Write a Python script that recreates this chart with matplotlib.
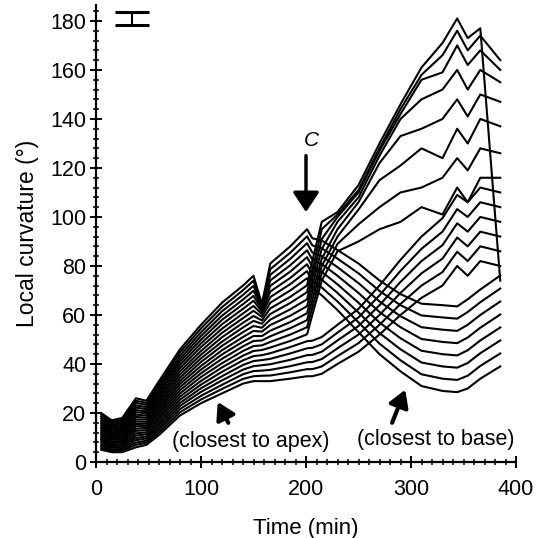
import matplotlib
matplotlib.use("Agg")
import matplotlib.pyplot as plt
from matplotlib.ticker import MultipleLocator

plt.rcParams["font.family"] = ["Liberation Sans", "DejaVu Sans"]

# sampling times (min), shared by every curve
time_min = [5, 15, 25, 38, 48, 60, 80, 100, 120, 140, 150, 158, 166, 185, 201,
            206, 215, 230, 250, 270, 290, 310, 330, 344, 354, 366, 385]

# local curvature (deg), one list per position along the organ (apex -> base)
curv_01 = [5, 4, 4, 6, 7, 11, 19, 24, 28, 32, 33, 33, 33, 34, 35,
           35, 36, 40, 45, 52, 60, 67, 72, 80, 76, 82, 80]
curv_02 = [5.7, 4.6, 4.7, 7.0, 7.9, 12.0, 20.3, 25.5, 29.8, 33.9, 35.0, 35.2, 35.3, 36.6, 37.9,
           37.9, 39, 43.2, 48.5, 56, 64.5, 72, 77.5, 85.8, 82, 88, 86]
curv_03 = [6.4, 5.2, 5.3, 7.9, 8.7, 13.1, 21.6, 27.0, 31.5, 35.8, 37.1, 37.3, 37.6, 39.1, 40.7,
           40.8, 42, 46.4, 52, 60, 69, 77, 83, 91.6, 88, 94, 92]
curv_04 = [7.1, 5.9, 6.0, 8.9, 9.6, 14.1, 22.9, 28.6, 33.3, 37.7, 39.1, 39.5, 39.9, 41.7, 43.6,
           43.7, 45, 49.6, 55.5, 64, 73.5, 82, 88.5, 97.4, 94, 100, 98]
curv_05 = [7.9, 6.5, 6.7, 9.8, 10.4, 15.2, 24.1, 30.1, 35.0, 39.6, 41.2, 41.6, 42.1, 44.3, 46.4,
           46.6, 48, 52.8, 59, 68, 78, 87, 94, 103.2, 100, 106, 104]
curv_06 = [8.6, 7.1, 7.3, 10.8, 11.3, 16.2, 25.4, 31.6, 36.8, 41.5, 43.2, 43.6, 44.4, 46.9, 49.3,
           49.5, 51, 56, 62.5, 72, 82.5, 92, 99.5, 109, 106, 112, 110]
curv_07 = [9.3, 7.7, 8.0, 11.7, 12.1, 17.3, 26.7, 33.1, 38.6, 43.4, 45.3, 45.7, 46.7, 49.4, 52.1,
           60, 74, 86, 90, 95, 98, 104, 101, 112, 106, 116, 116]
curv_08 = [10.0, 8.3, 8.7, 12.7, 13.0, 18.3, 28.0, 34.7, 40.3, 45.3, 47.3, 47.6, 49.0, 52.0, 55.0,
           63, 77, 89, 97, 104, 110, 112, 116, 124, 119, 128, 126]
curv_09 = [10.7, 9.0, 9.3, 13.6, 13.9, 19.4, 29.3, 36.2, 42.1, 47.2, 49.4, 49.6, 51.3, 54.6, 57.9,
           66, 80, 92, 103, 115, 121, 128, 124, 136, 130, 140, 137]
curv_10 = [11.4, 9.6, 10.0, 14.6, 14.7, 20.4, 30.6, 37.7, 43.9, 49.1, 51.4, 51.4, 53.6, 57.1, 60.7,
           69, 83, 95, 106, 122, 133, 136, 140, 148, 141, 150, 147]
curv_11 = [12.1, 10.2, 10.7, 15.5, 15.6, 21.5, 31.9, 39.2, 45.6, 51.0, 53.5, 53.2, 55.9, 59.7, 63.6,
           72, 87, 98, 108, 125, 140, 148, 152, 160, 152, 160, 155]
curv_12 = [12.9, 10.8, 11.3, 16.5, 16.4, 22.5, 33.1, 40.8, 47.4, 53.0, 55.5, 54.8, 58.1, 62.3, 66.4,
           75, 91, 100, 110, 127, 142, 156, 159, 170, 162, 168, 160]
curv_13 = [13.6, 11.4, 12.0, 17.4, 17.3, 23.6, 34.4, 42.3, 49.1, 54.9, 57.6, 56.4, 60.4, 64.9, 69.3,
           78, 95, 101, 111, 128, 144, 158, 166, 176, 168, 174, 164]
curv_14 = [14.3, 12.0, 12.7, 18.4, 18.1, 24.6, 35.7, 43.8, 50.9, 56.8, 59.6, 57.8, 62.7, 67.4, 72.1,
           82, 98, 102, 113, 130, 146, 161, 171, 181, 173, 177, 74]
curv_15 = [15.0, 12.7, 13.3, 19.3, 19.0, 25.7, 37.0, 45.3, 52.7, 58.7, 61.7, 59.2, 65.0, 70.0, 75.0,
           71, 68, 62, 53, 44, 37, 31, 29, 28.5, 30, 34, 39]
curv_16 = [15.7, 13.3, 14.0, 20.3, 19.9, 26.7, 38.3, 46.9, 54.4, 60.6, 63.7, 60.4, 67.3, 72.6, 77.9,
           73.9, 71.2, 65.5, 57, 48.3, 41.5, 35.8, 34, 33.5, 35.2, 39.2, 44.3]
curv_17 = [16.4, 13.9, 14.7, 21.2, 20.7, 27.8, 39.6, 48.4, 56.2, 62.5, 65.8, 61.5, 69.6, 75.1, 80.7,
           76.8, 74.4, 69, 61, 52.6, 46, 40.6, 39, 38.5, 40.4, 44.4, 49.6]
curv_18 = [17.1, 14.5, 15.3, 22.2, 21.6, 28.8, 40.9, 49.9, 58.0, 64.4, 67.8, 62.4, 71.9, 77.7, 83.6,
           79.7, 77.6, 72.5, 65, 56.9, 50.5, 45.4, 44, 43.5, 45.6, 49.6, 54.9]
curv_19 = [17.9, 15.1, 16.0, 23.1, 22.4, 29.9, 42.1, 51.4, 59.7, 66.3, 69.9, 63.2, 74.1, 80.3, 86.4,
           82.6, 80.8, 76, 69, 61.2, 55, 50.2, 49, 48.5, 50.8, 54.8, 60.2]
curv_20 = [18.6, 15.8, 16.7, 24.1, 23.3, 30.9, 43.4, 52.9, 61.5, 68.2, 71.9, 63.8, 76.4, 82.9, 89.3,
           85.5, 84, 79.5, 73, 65.5, 59.5, 55, 54, 53.5, 56, 60, 65.5]
curv_21 = [19.3, 16.4, 17.3, 25.0, 24.1, 32.0, 44.7, 54.5, 63.2, 70.1, 74.0, 64.2, 78.7, 85.4, 92.1,
           88.4, 87.2, 83, 77, 69.8, 64, 59.8, 59, 58.5, 61.2, 65.2, 70.8]
curv_22 = [20, 17, 18, 26, 25, 33, 46, 56, 65, 72, 76, 64.5, 81, 88, 95,
           91.3, 90.4, 86.5, 81, 74.1, 68.5, 64.6, 64, 63.5, 66.4, 70.4, 76.1]

curves = [curv_01, curv_02, curv_03, curv_04, curv_05, curv_06, curv_07, curv_08,
          curv_09, curv_10, curv_11, curv_12, curv_13, curv_14, curv_15, curv_16,
          curv_17, curv_18, curv_19, curv_20, curv_21, curv_22]

# error bar shown in the top-left corner
err_x = 34
err_y = 181
err_half = 2.8

fig = plt.figure(figsize=(5.41, 5.38), dpi=100)
ax = fig.add_axes([96 / 541, 76 / 538, 420 / 541, 457 / 538])

for c in curves:
    ax.plot(time_min, c, color="black", lw=1.5)

ax.errorbar([err_x], [err_y], yerr=[err_half], color="black", capsize=12.5,
            capthick=2.2, elinewidth=1.5, clip_on=False)

ax.set_xlim(0, 400)
ax.set_ylim(0, 186.5)
ax.xaxis.set_major_locator(MultipleLocator(100))
ax.xaxis.set_minor_locator(MultipleLocator(10))
ax.yaxis.set_major_locator(MultipleLocator(20))
ax.yaxis.set_minor_locator(MultipleLocator(4))
ax.tick_params(which="major", direction="inout", length=8, width=1.4, labelsize=15.5)
ax.tick_params(which="minor", direction="inout", length=4, width=1.1)
ax.tick_params(axis="x", which="major", pad=8)
ax.tick_params(axis="y", which="major", pad=3)
for s in ["top", "right"]:
    ax.spines[s].set_visible(False)
for s in ["left", "bottom"]:
    ax.spines[s].set_linewidth(1.6)

ax.set_xlabel("Time (min)", fontsize=16, labelpad=13)
ax.set_ylabel("Local curvature (°)", fontsize=16.5, labelpad=8)

# "C" marker arrow
ax.text(205, 131, "C", fontsize=15, fontstyle="italic", ha="center", va="center")
ax.annotate("", xy=(200, 102), xytext=(200, 125),
            arrowprops=dict(arrowstyle="-|>,head_length=0.6,head_width=0.4",
                            lw=2.5, color="black", mutation_scale=20,
                            shrinkA=0, shrinkB=0))

# apex / base arrows and labels
ax.annotate("", xy=(116, 24.5), xytext=(126, 16),
            arrowprops=dict(arrowstyle="-|>,head_length=0.5,head_width=0.3",
                            lw=3, color="black", mutation_scale=20,
                            shrinkA=0, shrinkB=0))
ax.annotate("", xy=(294.5, 29.5), xytext=(282, 16),
            arrowprops=dict(arrowstyle="-|>,head_length=0.5,head_width=0.3",
                            lw=3, color="black", mutation_scale=20,
                            shrinkA=0, shrinkB=0))
ax.text(147, 8.5, "(closest to apex)", fontsize=15.5, ha="center", va="center")
ax.text(324, 9, "(closest to base)", fontsize=15.5, ha="center", va="center")

fig.savefig("out.png", dpi=100)
